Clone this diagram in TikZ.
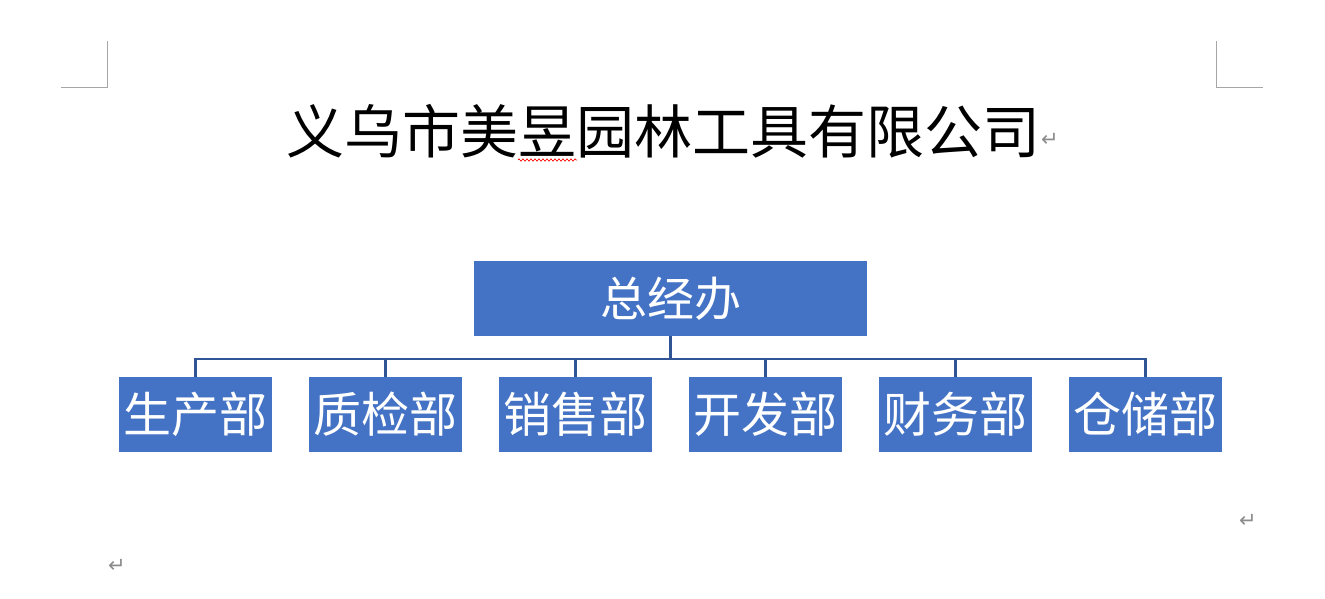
\documentclass[tikz,border=0pt]{standalone}
\usepackage{fontspec}
\newfontfamily\cjk{Noto Sans CJK SC}
\newfontfamily\cjklight{Noto Sans CJK SC Light}
\newfontfamily\djv{DejaVu Sans}
\usetikzlibrary{decorations.pathmorphing}
\definecolor{boxblue}{HTML}{4472C4}
\definecolor{lineblue}{HTML}{2F5597}
\definecolor{markgray}{HTML}{A6A6A6}
\definecolor{pgray}{HTML}{8C8C8C}
\begin{document}
\begin{tikzpicture}[x=1pt,y=-1pt,
  orgbox/.style={fill=boxblue,draw=none,minimum width=153pt,minimum height=75pt,inner sep=0pt,text=white,font=\cjk\fontsize{48}{48}\selectfont},
  topbox/.style={orgbox,minimum width=393pt,font=\cjk\fontsize{47}{47}\selectfont},
  conn/.style={draw=lineblue,line width=2.5pt},
  pmark/.style={text=pgray,font=\djv\fontsize{21}{21}\selectfont,inner sep=0pt},
  crop/.style={draw=markgray,line width=1pt}]
\useasboundingbox (0,0) rectangle (1325,599);
% crop marks
\draw[crop] (107,41) -- (107,88) -- (61,88);
\draw[crop] (1216,41) -- (1216,88) -- (1263,88);
% title
\node[font=\cjk\fontsize{58}{58}\selectfont,inner sep=0pt] (title) at (663,131) {义乌市美昱园林工具有限公司};
\node[pmark,anchor=west] (pm1) at (1041,140) {↵};
\draw[red,line width=0.6pt,decorate,decoration={zigzag,segment length=4pt,amplitude=1.2pt}] (518,160) -- (577,160);
% boxes
\node[topbox] (gm) at (670.5,298.5) {总经办};
\node[orgbox] (d1) at (195.5,414.5) {生产部};
\node[orgbox] (d2) at (385.5,414.5) {质检部};
\node[orgbox] (d3) at (575.5,414.5) {销售部};
\node[orgbox] (d4) at (765.5,414.5) {开发部};
\node[orgbox] (d5) at (955.5,414.5) {财务部};
\node[orgbox] (d6) at (1145.5,414.5) {仓储部};
\coordinate (bar) at (670.5,359);
\draw[conn] (gm.south) -- (bar);
\foreach \d in {d1,d2,d3,d4,d5,d6}{
  \draw[conn] (\d.north) -- (\d.north |- bar);
}
\draw[conn] ([xshift=-1.25pt]d1.north |- bar) -- ([xshift=1.25pt]d6.north |- bar);
% paragraph marks
\node[pmark] (pm2) at (1248,521) {↵};
\node[pmark] (pm3) at (117,566) {↵};
\end{tikzpicture}
\end{document}
